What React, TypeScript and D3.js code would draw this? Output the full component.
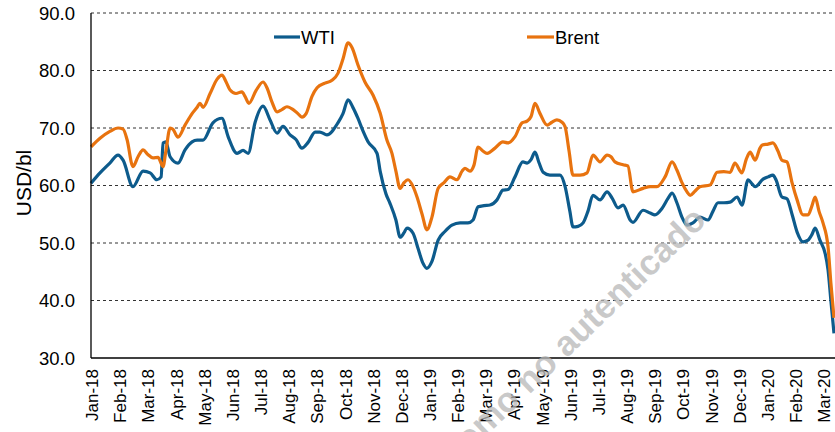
import React from "react";
import * as d3 from "d3";

// x positions: months elapsed since 1 Jan 2018 (0 = Jan-18, 26 = Mar-20)
const monthLabels = [
  "Jan-18","Feb-18","Mar-18","Apr-18","May-18","Jun-18","Jul-18","Aug-18","Sep-18","Oct-18","Nov-18","Dec-18",
  "Jan-19","Feb-19","Mar-19","Apr-19","May-19","Jun-19","Jul-19","Aug-19","Sep-19","Oct-19","Nov-19","Dec-19",
  "Jan-20","Feb-20","Mar-20",
];
const yTicks = [30, 40, 50, 60, 70, 80, 90];

const wtiT = [
  0, 0.32, 0.67, 0.96, 1.14, 1.49, 1.85, 2.10, 2.34, 2.49, 2.56, 2.66, 2.81, 3.09, 3.34, 3.59, 3.77, 3.98,
  4.33, 4.65, 4.87, 5.19, 5.40, 5.58, 5.83, 6.11, 6.36, 6.61, 6.82, 7.07, 7.28, 7.49, 7.71, 7.96, 8.13, 8.38,
  8.77, 8.95, 9.13, 9.31, 9.48, 9.66, 9.84, 10.16, 10.27, 10.48, 10.62, 10.83, 10.98, 11.12, 11.22, 11.44,
  11.62, 11.79, 11.93, 12.11, 12.33, 12.57, 12.82, 13.11, 13.39, 13.57, 13.75, 13.96, 14.17, 14.42, 14.63,
  14.81, 15.06, 15.34, 15.49, 15.63, 15.77, 15.91, 16.06, 16.30, 16.66, 16.84, 17.01, 17.12, 17.30, 17.48,
  17.65, 17.83, 18.08, 18.33, 18.51, 18.72, 18.90, 19.15, 19.25, 19.61, 19.86, 20.03, 20.28, 20.50, 20.64,
  20.81, 20.99, 21.17, 21.38, 21.63, 21.92, 22.09, 22.27, 22.48, 22.70, 22.95, 23.12, 23.34, 23.48, 23.59,
  23.87, 24.05, 24.22, 24.33, 24.54, 24.72, 24.90, 25.08, 25.29, 25.47, 25.61, 25.72, 25.89, 26.07, 26.18,
  26.28, 26.39,
];
const wtiValues = [
  60.4, 62.2, 63.9, 65.3, 64.4, 59.8, 62.5, 62.2, 61.0, 61.5, 67.4, 67.6, 65.0, 63.9, 66.2, 67.6, 67.9, 67.9,
  70.9, 71.7, 68.5, 65.6, 66.1, 65.6, 71.0, 73.8, 71.4, 69.1, 70.3, 68.8, 68.0, 66.5, 67.5, 69.3, 69.3, 68.8,
  70.9, 72.5, 74.9, 73.5, 71.7, 69.5, 67.6, 65.6, 62.5, 58.5, 56.9, 54.0, 51.0, 51.8, 52.6, 51.7,
  49.0, 46.5, 45.6, 46.8, 50.5, 52.0, 53.1, 53.5, 53.5, 54.0, 56.3, 56.5, 56.6, 57.5, 59.2,
  59.3, 61.5, 64.1, 63.9, 64.5, 65.8, 64.0, 62.3, 61.8, 61.8, 59.8, 55.5, 52.8, 52.9, 53.5,
  55.5, 58.3, 57.5, 58.9, 57.8, 56.1, 56.6, 54.0, 53.6, 55.7, 55.2, 54.9, 56.0, 57.8, 58.7,
  57.0, 54.5, 53.1, 53.5, 54.5, 54.0, 55.5, 57.0, 57.0, 57.1, 58.0, 56.6, 61.0, 60.3, 59.8,
  61.1, 61.5, 61.8, 61.0, 58.0, 57.7, 55.0, 51.9, 50.2, 50.5, 51.5, 52.6, 50.5, 48.3, 45.3,
  40.0, 34.3,
];

const brentT = [
  0, 0.32, 0.67, 0.96, 1.14, 1.28, 1.49, 1.67, 1.85, 2.02, 2.20, 2.38, 2.56, 2.66, 2.81, 2.91, 3.09, 3.34,
  3.59, 3.77, 3.87, 3.98, 4.23, 4.48, 4.65, 4.80, 4.94, 5.15, 5.36, 5.47, 5.61, 5.86, 6.11, 6.25, 6.43, 6.61,
  6.78, 6.96, 7.18, 7.35, 7.49, 7.64, 7.85, 8.03, 8.31, 8.56, 8.77, 8.95, 9.13, 9.27, 9.48, 9.73, 10.02,
  10.27, 10.51, 10.69, 10.83, 10.98, 11.12, 11.26, 11.44, 11.58, 11.76, 11.93, 12.11, 12.33, 12.54, 12.75,
  13.00, 13.18, 13.28, 13.46, 13.60, 13.75, 13.92, 14.07, 14.35, 14.63, 14.81, 15.06, 15.31, 15.49, 15.63,
  15.77, 15.95, 16.20, 16.37, 16.55, 16.73, 16.84, 16.98, 17.12, 17.37, 17.62, 17.83, 18.08, 18.33, 18.47,
  18.61, 18.90, 19.07, 19.25, 19.61, 19.86, 20.10, 20.39, 20.64, 20.81, 20.99, 21.17, 21.28, 21.45, 21.63,
  21.99, 22.24, 22.48, 22.70, 22.87, 23.12, 23.27, 23.41, 23.59, 23.76, 23.83, 24.05, 24.22, 24.40, 24.54,
  24.72, 24.90, 25.08, 25.29, 25.47, 25.61, 25.72, 25.86, 26.00, 26.18, 26.28, 26.39,
];
const brentValues = [
  66.7, 68.2, 69.4, 70.0, 69.8, 68.0, 63.3, 65.0, 66.2, 65.4, 64.8, 64.9, 63.3, 66.0, 70.0, 69.8, 68.4, 70.5,
  72.5, 73.6, 74.3, 73.6, 76.0, 78.5, 79.2, 78.0, 76.6, 76.0, 76.3, 75.5, 74.3, 76.5, 78.0, 77.0, 74.5, 72.8,
  73.2, 73.7, 73.2, 72.5, 71.9, 72.5, 75.5, 77.0, 77.8, 78.3, 79.5, 82.0, 84.8, 84.0, 81.0, 78.0, 75.7,
  72.6, 67.9, 65.6, 62.5, 59.5, 60.5, 61.0, 59.8, 58.0, 55.0, 52.3, 54.5, 59.5, 60.5, 61.5,
  61.0, 62.5, 63.0, 62.5, 63.5, 66.7, 66.0, 65.6, 66.5, 67.6, 67.4, 68.5, 70.9, 71.2, 72.0,
  74.3, 72.5, 70.5, 71.0, 71.4, 71.0, 70.2, 66.0, 61.8, 61.8, 62.2, 65.3, 64.1, 65.3, 65.0,
  64.1, 63.6, 63.4, 58.9, 59.5, 59.8, 59.8, 61.5, 64.1, 62.7, 60.5, 58.9, 58.3, 59.0, 59.8,
  60.1, 62.3, 62.4, 62.3, 63.9, 62.2, 64.5, 65.8, 64.4, 66.5, 67.0, 67.2, 67.4, 66.0, 64.4,
  64.1, 60.5, 57.5, 54.9, 54.9, 56.5, 58.0, 55.5, 53.5, 49.3, 43.0, 37.0,
];

const W = 835;
const H = 432;
const left = 91;
const top = 13;
const bottom = 358;
const FONT = "'Liberation Sans', Arial, sans-serif";
const WTI_COLOR = "#0d5b8c";
const BRENT_COLOR = "#e8730f";

export default function App() {
  const x = d3.scaleLinear().domain([0, 26]).range([left, 823]);
  const y = d3.scaleLinear().domain([30, 90]).range([bottom, top]);
  const line = d3
    .line<[number, number]>()
    .x((d) => x(d[0]))
    .y((d) => y(d[1]))
    .curve(d3.curveMonotoneX);
  const wti = wtiT.map((t, i) => [t, wtiValues[i]] as [number, number]);
  const brent = brentT.map((t, i) => [t, brentValues[i]] as [number, number]);

  return (
    <svg
      width={W}
      height={H}
      style={{ position: "absolute", left: 0, top: 0, background: "#fff" }}
      fontFamily={FONT}
    >
      {yTicks.filter((v) => v > 30).map((v) => (
        <line
          key={v}
          x1={left}
          x2={W}
          y1={y(v)}
          y2={y(v)}
          stroke="#333"
          strokeWidth={1}
          strokeDasharray="3,3"
        />
      ))}
      {yTicks.map((v) => (
        <text
          key={"t" + v}
          x={75}
          y={y(v)}
          dy="0.36em"
          textAnchor="end"
          fontSize={18.5}
          fill="#000"
        >
          {v.toFixed(1)}
        </text>
      ))}
      <text
        transform={`translate(31,${183}) rotate(-90)`}
        textAnchor="middle"
        fontSize={21}
        fill="#000"
      >
        USD/bl
      </text>
      {monthLabels.map((m, i) => (
        <text
          key={m}
          transform={`translate(${x(i) + 1},369) rotate(-90)`}
          textAnchor="end"
          dy="0.36em"
          fontSize={17}
          fill="#000"
        >
          {m}
        </text>
      ))}
      <path d={line(wti) || ""} fill="none" stroke={WTI_COLOR} strokeWidth={3.2} strokeLinejoin="round" />
      <path d={line(brent) || ""} fill="none" stroke={BRENT_COLOR} strokeWidth={3.2} strokeLinejoin="round" />
      <line x1={left} x2={left} y1={top} y2={bottom} stroke="#000" strokeWidth={1.3} />
      <line x1={left} x2={W} y1={bottom} y2={bottom} stroke="#000" strokeWidth={1.3} />
      <line x1={274} x2={300} y1={37} y2={37} stroke={WTI_COLOR} strokeWidth={3.2} />
      <text x={301} y={37} dy="0.36em" fontSize={18.5} fill="#000">WTI</text>
      <line x1={527} x2={554} y1={37} y2={37} stroke={BRENT_COLOR} strokeWidth={3.2} />
      <text x={555} y={37} dy="0.36em" fontSize={18.5} fill="#000">Brent</text>
      <text
        transform="translate(708,222) rotate(-44)"
        textAnchor="end"
        fontSize={35}
        fontWeight="bold"
        fill="#b8b8b8"
        fillOpacity={0.75}
      >
        como no autenticado
      </text>
    </svg>
  );
}
